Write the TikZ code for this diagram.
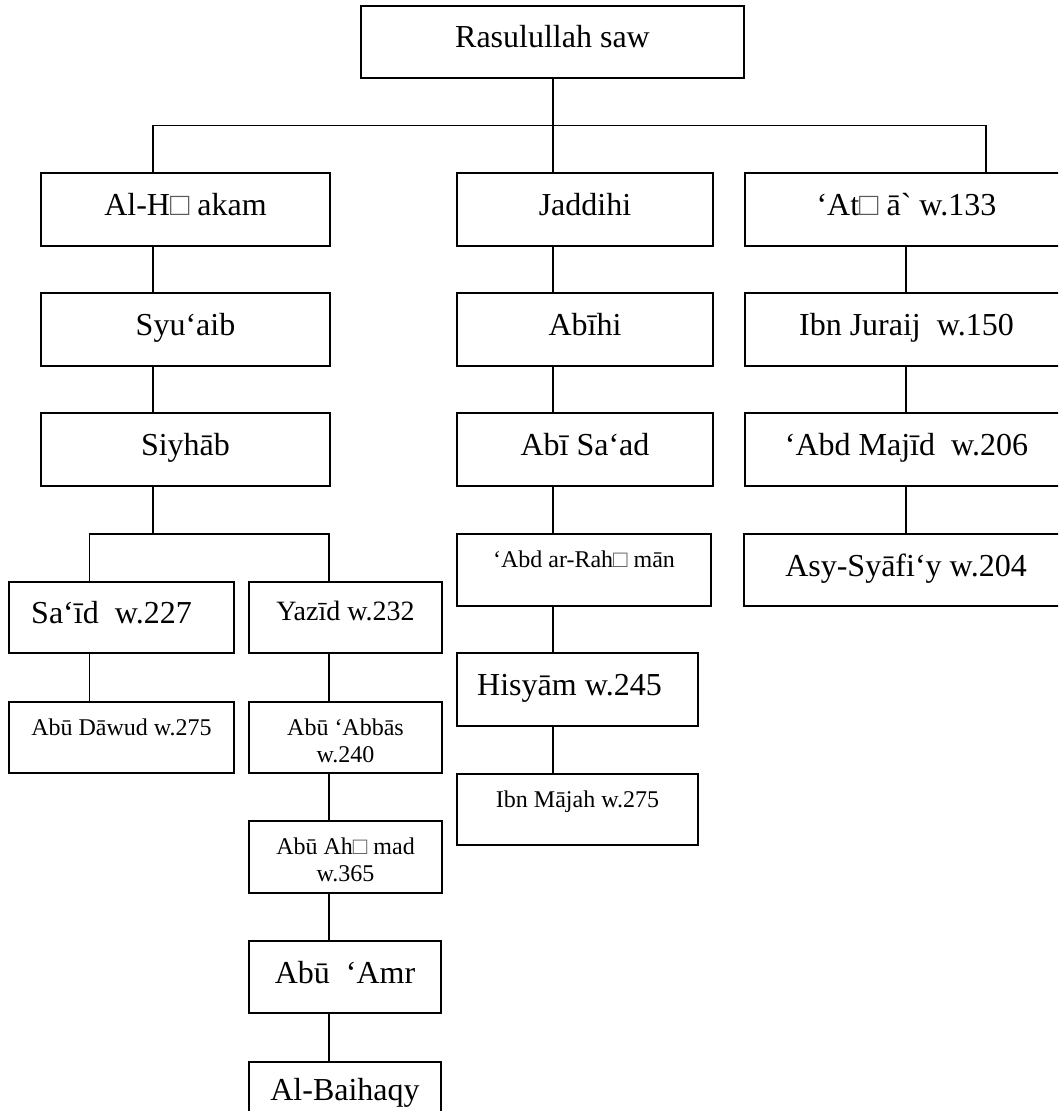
\documentclass[tikz,border=0pt]{standalone}
\usepackage{fontspec}
\setmainfont{Liberation Serif}
\newfontfamily\rawserif[Ligatures=TeXOff]{Liberation Serif}
\newcommand\sqg{\textcolor{black!65}{□}}
\tikzset{
  boxst/.style={draw, line width=1.9pt, rectangle, inner sep=0pt, outer sep=0pt},
  lbl/.style={anchor=base, inner sep=0pt, outer sep=0pt},
  conn/.style={line width=1.3pt},
  big/.style={font=\fontsize{32}{36}\selectfont},
  mid/.style={font=\fontsize{28}{32}\selectfont},
  small/.style={font=\fontsize{24}{28}\selectfont},
}
\newcommand\ubox[8]{%
  \pgfmathsetmacro\uw{#4-#2}\pgfmathsetmacro\uh{#5-#3}%
  \pgfmathsetmacro\ucx{(#2+#4)/2}\pgfmathsetmacro\ucy{(#3+#5)/2}\pgfmathsetmacro\uby{#3+#6}%
  \node[boxst, minimum width=\uw pt, minimum height=\uh pt] (#1) at (\ucx,\ucy) {};
  \node[lbl, #7] (#1-t) at (\ucx,\uby) {#8};}
\begin{document}
\begin{tikzpicture}[x=1pt,y=-1pt]
\clip (0,0) rectangle (1058,1111);
\fill[white] (0,0) rectangle (1058,1111);
% boxes
\ubox{root}{361}{6}{744}{78}{41}{big}{Rasulullah saw}
\ubox{hak}{41}{173}{330}{246}{42}{big}{Al-H\sqg\ akam}
\ubox{syu}{41}{293}{330}{366}{42}{big}{Syu‘aib}
\ubox{siy}{41}{413}{330}{486}{42}{big}{Siyhāb}
\ubox{said}{9}{582}{234}{653}{41}{big}{Sa‘īd~~w.227\hspace*{20pt}}
\ubox{yaz}{249}{582}{442}{653}{38}{mid}{Yazīd w.232}
\ubox{dawud}{9}{702}{234}{773}{33}{small}{Abū Dāwud w.275}
\ubox{abbas}{249}{702}{442}{773}{33}{small}{Abū ‘Abbās}
\node[lbl, small] (abbas-u) at (abbas-t.base |- 0,762) {w.240};
\ubox{ahmad}{249}{821}{442}{893}{33}{small}{Abū Ah\sqg\ mad}
\node[lbl, small] (ahmad-u) at (ahmad-t.base |- 0,881) {w.365};
\ubox{amr}{249}{941}{441}{1013}{42}{big}{Abū~~‘Amr}
\ubox{baih}{249}{1062}{441}{1134}{38}{big}{Al-Baihaqy}
\ubox{jad}{457}{173}{713}{246}{42}{big}{Jaddihi}
\ubox{abihi}{457}{293}{713}{366}{42}{big}{Abīhi}
\ubox{sad}{457}{413}{713}{486}{42}{big}{Abī Sa‘ad}
\ubox{rah}{457}{534}{711}{606}{33}{small}{‘Abd ar-Rah\sqg\ mān}
\ubox{hisy}{457}{653}{698}{726}{42}{big}{Hisyām w.245\hspace*{16pt}}
\ubox{majah}{457}{774}{698}{845}{33}{small}{Ibn Mājah w.275}
\ubox{atha}{745}{173}{1068}{246}{42}{big}{‘At\sqg\ ā{\rawserif`} w.133}
\ubox{juraij}{745}{293}{1068}{366}{42}{big}{Ibn Juraij~~w.150}
\ubox{majid}{745}{413}{1068}{486}{42}{big}{‘Abd Majīd~~w.206}
\ubox{syafi}{744}{534}{1068}{606}{42}{big}{Asy-Syāfi‘y w.204}
% connector coordinates
\coordinate (brL) at (153,125.7);
\coordinate (brR) at (986,125.7);
\coordinate (b2L) at (89.5,534);
\coordinate (b2R) at (329,534);
\coordinate (cM) at (553,0);
\coordinate (cR) at (906,0);
% connectors
\draw[conn] (root.south -| cM) -- (jad.north -| cM);
\draw[conn] (hak.north -| brL) -- (brL) -- (brR) -- (atha.north -| brR);
\draw[conn] (hak.south -| brL) -- (syu.north -| brL);
\draw[conn] (syu.south -| brL) -- (siy.north -| brL);
\draw[conn] (siy.south -| brL) -- (brL |- b2L);
\draw[conn] (said.north -| b2L) -- (b2L) -- (b2R) -- (yaz.north -| b2R);
\draw[conn] (said.south -| b2L) -- (dawud.north -| b2L);
\draw[conn] (yaz.south -| b2R) -- (abbas.north -| b2R);
\draw[conn] (abbas.south -| b2R) -- (ahmad.north -| b2R);
\draw[conn] (ahmad.south -| b2R) -- (amr.north -| b2R);
\draw[conn] (amr.south -| b2R) -- (baih.north -| b2R);
\draw[conn] (jad.south -| cM) -- (abihi.north -| cM);
\draw[conn] (abihi.south -| cM) -- (sad.north -| cM);
\draw[conn] (sad.south -| cM) -- (rah.north -| cM);
\draw[conn] (rah.south -| cM) -- (hisy.north -| cM);
\draw[conn] (hisy.south -| cM) -- (majah.north -| cM);
\draw[conn] (atha.south -| cR) -- (juraij.north -| cR);
\draw[conn] (juraij.south -| cR) -- (majid.north -| cR);
\draw[conn] (majid.south -| cR) -- (syafi.north -| cR);
\end{tikzpicture}
\end{document}
